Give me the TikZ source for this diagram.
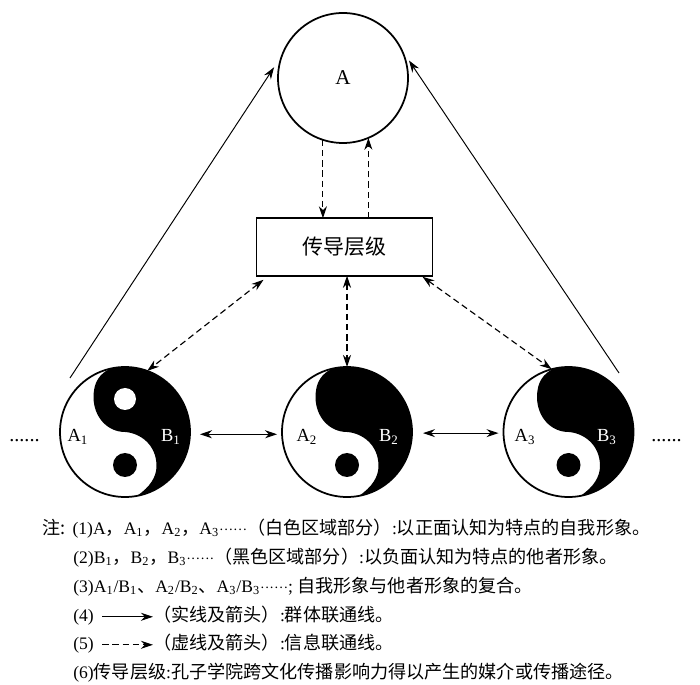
\documentclass[tikz,border=0pt]{standalone}
\usepackage{fontspec}
\setmainfont{Liberation Serif}
\newfontfamily\cjk[Scale=1.03]{Noto Sans CJK SC}
\usetikzlibrary{positioning, arrows.meta}
\newcommand{\dotrow}{{\footnotesize ······}}
\newcommand{\taiji}[1]{%
  \fill[shift={(#1.center)}] (103.3:1.3) arc[start angle=103.3, end angle=-79.4, radius=1.3]
    .. controls (0.5,-1.10) and (0.63,-0.90) .. (0.63,-0.68)
    .. controls (0.63,-0.25) and (0.3,-0.02) .. (0,0)
    .. controls (-0.35,0) and (-0.63,0.3) .. (-0.63,0.70)
    .. controls (-0.63,1.0) and (-0.5,1.17) .. cycle;
  \fill[shift={(#1.center)}] (0,-0.66) circle (0.24);
}
\tikzset{
  round/.style={draw, circle, line width=1pt, outer sep=0pt, minimum size=2.6cm, inner sep=0pt},
  solidlink/.style={line width=0.55pt, -{Stealth[length=0.24cm, width=0.16cm]}},
  dashlink/.style={line width=0.65pt, dash pattern=on 3.6pt off 2.2pt, -{Stealth[length=0.24cm, width=0.16cm]}},
  bothlink/.style={line width=0.65pt, dash pattern=on 3.6pt off 2.2pt, {Stealth[length=0.24cm, width=0.16cm]}-{Stealth[length=0.24cm, width=0.16cm]}},
  pairlink/.style={line width=0.65pt, {Stealth[length=0.24cm, width=0.16cm]}-{Stealth[length=0.24cm, width=0.16cm]}},
  tag/.style={font=\fontsize{10.5}{12}\selectfont},
  noteline/.style={anchor=base west, inner sep=0pt, font=\normalsize},
  dotsline/.style={font=\fontsize{11.5}{12}\selectfont, inner sep=0pt}
}

\begin{document}
\begin{tikzpicture}
\useasboundingbox (0,0) rectangle (14,13.68);

\node[round, font=\large] (top) at (6.86,12.12) {A};
\node[draw, line width=1pt, outer sep=0pt, minimum width=3.52cm, minimum height=1.15cm, font=\fontsize{11.6}{13}\selectfont\cjk] (rect) at (6.89,8.74) {传导层级};

\node[round] (one) at (2.5,5.04) {};
\node[round, right=1.84cm of one] (two) {};
\node[round, right=1.83cm of two] (three) {};
\taiji{one}
\taiji{two}
\taiji{three}
\fill[white] ([yshift=0.66cm]one.center) circle (0.22);

\node[tag] (aOne) at ([xshift=-0.94cm,yshift=-0.1cm]one.center) {A\textsubscript{1}};
\node[tag, text=white] (bOne) at ([xshift=0.92cm,yshift=-0.1cm]one.center) {B\textsubscript{1}};
\node[tag] (aTwo) at ([xshift=-0.8cm,yshift=-0.1cm]two.center) {A\textsubscript{2}};
\node[tag, text=white] (bTwo) at ([xshift=0.84cm,yshift=-0.1cm]two.center) {B\textsubscript{2}};
\node[tag] (aThree) at ([xshift=-0.87cm,yshift=-0.1cm]three.center) {A\textsubscript{3}};
\node[tag, text=white] (bThree) at ([xshift=0.77cm,yshift=-0.1cm]three.center) {B\textsubscript{3}};

\node[dotsline] (dotsL) at (0.49,4.86) {......};
\node[dotsline] (dotsR) at (13.33,4.86) {......};

% solid links up to A
\coordinate (startL) at (1.40,6.12);
\coordinate (startR) at (12.38,6.22);
\draw[solidlink, shorten >=0.30cm] (startL) -- (top.159.3);
\draw[solidlink, shorten >=0.29cm] (startR) -- (top.27.3);

% dashed links
\draw[dashlink] (top.252) -- (top.252 |- rect.north);
\draw[dashlink] (top.293.6 |- rect.north) -- (top.293.6);
\draw[bothlink] ([xshift=0.14cm,yshift=-0.08cm]rect.south west) -- (one.70);
\draw[bothlink] (two.north |- rect.south) -- (two.north);
\draw[bothlink] ([xshift=-0.2cm,yshift=-0.02cm]rect.south east) -- (three.105);

\draw[pairlink, shorten <=0.2cm, shorten >=0.1cm] (one.-2) -- (two.182);
\draw[pairlink, shorten <=0.22cm, shorten >=0.1cm] (two.-1) -- (three.181);

% notes
\node[noteline] (noteA) at (0.84,3.0) {{\cjk 注:}\hspace{4pt}(1)A{\cjk ，}A\textsubscript{1}{\cjk ，}A\textsubscript{2}{\cjk ，}A\textsubscript{3}\dotrow{\cjk （白色区域部分）}:{\cjk 以正面认知为特点的自我形象。}};
\node[noteline] (noteB) at (1.46,2.42) {(2)B\textsubscript{1}{\cjk ，}B\textsubscript{2}{\cjk ，}B\textsubscript{3}\dotrow{\cjk （黑色区域部分）}:{\cjk 以负面认知为特点的他者形象。}};
\node[noteline] (noteC) at (1.46,1.84) {(3)A\textsubscript{1}/B\textsubscript{1}{\cjk 、}A\textsubscript{2}/B\textsubscript{2}{\cjk 、}A\textsubscript{3}/B\textsubscript{3}\dotrow; {\cjk 自我形象与他者形象的复合。}};
\node[noteline] (noteD) at (1.46,1.26) {(4)};
\node[noteline] (noteDd) at (3.06,1.26) {{\cjk （实线及箭头）}:{\cjk 群体联通线。}};
\node[noteline] (noteE) at (1.46,0.70) {(5)};
\node[noteline] (noteEe) at (3.06,0.70) {{\cjk （虚线及箭头）}:{\cjk 信息联通线。}};
\node[noteline] (noteF) at (1.46,0.12) {(6){\cjk 传导层级}:{\cjk 孔子学院跨文化传播影响力得以产生的媒介或传播途径。}};

\draw[solidlink, shorten <=0.16cm] (noteD.east) -- (noteD.east -| noteDd.west);
\draw[dashlink, shorten <=0.16cm] (noteE.east) -- (noteE.east -| noteEe.west);
\end{tikzpicture}
\end{document}
